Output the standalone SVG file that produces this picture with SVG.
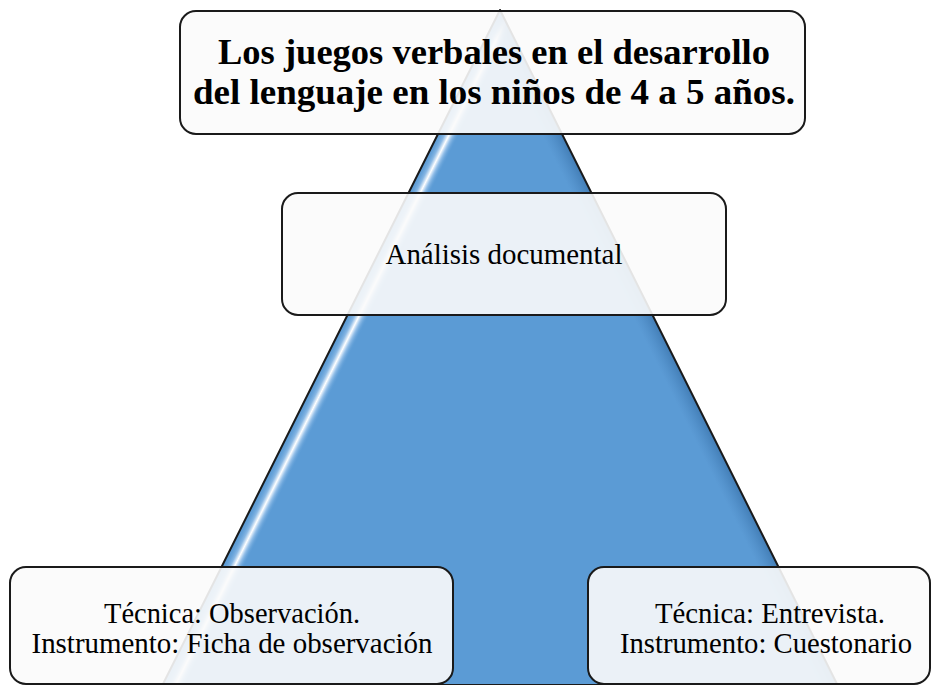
<svg xmlns="http://www.w3.org/2000/svg" width="938" height="685" viewBox="0 0 938 685">
  <style>
    .box { fill: #FBFBFB; fill-opacity: 0.9; stroke: #1a1a1a; stroke-width: 2; }
    .t { font-family: "Liberation Serif", "Times New Roman", serif; fill: #000; text-anchor: middle; }
    .title { font-size: 36px; font-weight: bold; }
    .body { font-size: 30px; }
  </style>
  <defs>
    <linearGradient id="leftHi" gradientUnits="userSpaceOnUse" x1="300" y1="410" x2="317.9" y2="418.9">
      <stop offset="0" stop-color="#5B9BD5" stop-opacity="0"/>
      <stop offset="0.35" stop-color="#8DBBE6" stop-opacity="0.9"/>
      <stop offset="0.55" stop-color="#FFFFFF" stop-opacity="1"/>
      <stop offset="0.72" stop-color="#9CC5EC" stop-opacity="0.9"/>
      <stop offset="1" stop-color="#5B9BD5" stop-opacity="0"/>
    </linearGradient>
    <linearGradient id="rightSh" gradientUnits="userSpaceOnUse" x1="684" y1="418" x2="700" y2="410">
      <stop offset="0" stop-color="#4A86C0" stop-opacity="0"/>
      <stop offset="1" stop-color="#3E78B0" stop-opacity="0.85"/>
    </linearGradient>
  </defs>

  <g id="pyramid">
    <polygon points="500,10 837.5,685 162.5,685" fill="#5B9BD5"/>
    <polygon points="500,10 837.5,685 162.5,685" fill="url(#leftHi)"/>
    <polygon points="500,10 837.5,685 162.5,685" fill="url(#rightSh)"/>
    <polygon points="500,10 837.5,685 162.5,685" fill="none" stroke="#1a1a1a" stroke-width="2" stroke-linejoin="round"/>
  </g>

  <g id="connectors"></g>

  <g id="node-title">
    <rect class="box" x="180" y="11" width="625" height="123" rx="16" ry="16"/>
    <text class="t title" x="494" y="64" textLength="552" lengthAdjust="spacingAndGlyphs">Los juegos verbales en el desarrollo</text>
    <text class="t title" x="494" y="104" textLength="602" lengthAdjust="spacingAndGlyphs">del lenguaje en los niños de 4 a 5 años.</text>
  </g>

  <g id="node-analisis">
    <rect class="box" x="282" y="193" width="444" height="122" rx="16" ry="16"/>
    <text class="t body" x="504" y="264" textLength="237" lengthAdjust="spacingAndGlyphs">Análisis documental</text>
  </g>

  <g id="node-observacion">
    <rect class="box" x="10" y="567" width="443" height="117" rx="16" ry="16"/>
    <text class="t body" x="232" y="623" textLength="256" lengthAdjust="spacingAndGlyphs">Técnica: Observación.</text>
    <text class="t body" x="232" y="653" textLength="401" lengthAdjust="spacingAndGlyphs">Instrumento: Ficha de observación</text>
  </g>

  <g id="node-entrevista">
    <rect class="box" x="588" y="567" width="342" height="117" rx="16" ry="16"/>
    <text class="t body" x="770" y="623" textLength="230" lengthAdjust="spacingAndGlyphs">Técnica: Entrevista.</text>
    <text class="t body" x="766" y="653" textLength="292" lengthAdjust="spacingAndGlyphs">Instrumento: Cuestonario</text>
  </g>
</svg>
